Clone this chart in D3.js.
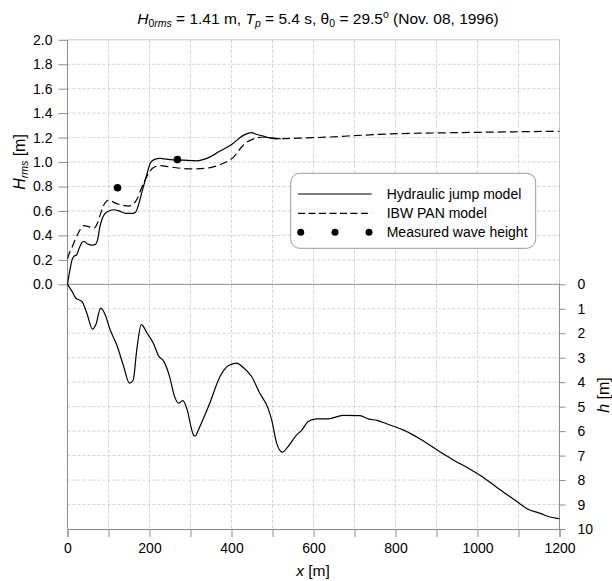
<!DOCTYPE html>
<html><head><meta charset="utf-8">
<script src="https://cdn.jsdelivr.net/npm/d3@7"></script>
<style>body{margin:0;background:#fff}svg{display:block}text{font-family:"Liberation Sans",Arial,sans-serif;fill:#000}</style>
</head><body>
<svg id="chart" width="612" height="581"></svg>
<script>
// ---- data ----
const xTicks = [0,200,400,600,800,1000,1200];
const hTicks = [0,0.2,0.4,0.6,0.8,1.0,1.2,1.4,1.6,1.8,2.0];
const depthTicks = [0,1,2,3,4,5,6,7,8,9,10];

const bathyX = [0,11,20,35,47,61,69,81,92,104,120,137,151,160,169,180,194,210,222,235,249,261,271,281,292,302,308,312,318,323,347,372,392,412,428,449,469,489,498,510,524,538,559,571,587,607,636,672,713,735,755,780,820,861,910,943,976,1008,1049,1090,1122,1155,1171,1200];
const bathyH = [0,0.29,0.56,0.70,1.17,1.83,1.65,0.97,1.24,1.86,2.47,3.36,4.04,3.93,2.67,1.65,1.99,2.43,2.92,3.15,3.77,4.58,4.86,4.75,5.13,5.88,6.18,6.2,6.0,5.81,4.86,3.77,3.33,3.22,3.39,3.77,4.45,5.06,5.54,6.49,6.86,6.63,6.15,5.97,5.61,5.50,5.50,5.36,5.37,5.51,5.56,5.71,5.96,6.33,6.86,7.2,7.5,7.82,8.32,8.80,9.18,9.37,9.48,9.58];

const jumpX = [0,6,12,16,22,28,35,40,49,61,69,73,79,85,92,101,113,126,142,158,166,174,182,192,202,211,226,250,283,315,340,372,401,425,440,449,462,475,490,505,520];
const jumpH = [0,0.12,0.21,0.23,0.24,0.29,0.34,0.35,0.33,0.32,0.33,0.36,0.47,0.54,0.58,0.60,0.61,0.60,0.58,0.58,0.59,0.66,0.76,0.88,0.99,1.02,1.03,1.02,1.015,1.01,1.03,1.09,1.145,1.21,1.235,1.24,1.225,1.215,1.20,1.195,1.19];

const panX = [0,5,12,20,28,40,53,65,73,81,89,101,113,130,150,162,170,182,190,198,210,226,250,283,315,348,380,405,429,454,480,510,559,641,722,812,900,1000,1100,1200];
const panH = [0.21,0.26,0.31,0.375,0.43,0.48,0.47,0.46,0.50,0.58,0.65,0.69,0.67,0.65,0.64,0.66,0.70,0.80,0.86,0.91,0.955,0.97,0.96,0.947,0.944,0.955,0.99,1.04,1.14,1.19,1.205,1.19,1.195,1.205,1.22,1.233,1.238,1.243,1.248,1.252];

const measX = [122, 268];
const measH = [0.79, 1.02];

const legendLabels = ["Hydraulic jump model","IBW PAN model","Measured wave height"];

// ---- layout ----
const svg = d3.select("#chart");
const L = 67.5, R = 559.5, T = 39.8, Z = 284.3, B = 529;
const x = d3.scaleLinear().domain([0,1200]).range([L,R]);
const yH = d3.scaleLinear().domain([0,2]).range([Z,T]);
const yD = d3.scaleLinear().domain([0,10]).range([Z,B]);

const grid = svg.append("g").attr("stroke","#c8c8c8").attr("stroke-width",0.8).attr("stroke-dasharray","3,2");
d3.range(100,1200,100).forEach(v=>{
  grid.append("line").attr("x1",x(v)).attr("x2",x(v)).attr("y1",T).attr("y2",B);
});
d3.range(1,10).forEach(i=>{
  const v=i*0.2;
  grid.append("line").attr("x1",L).attr("x2",R).attr("y1",yH(v)).attr("y2",yH(v));
});
d3.range(1,10).forEach(v=>{
  grid.append("line").attr("x1",L).attr("x2",R).attr("y1",yD(v)).attr("y2",yD(v));
});
// frame top/right
svg.append("line").attr("x1",L).attr("x2",R).attr("y1",T).attr("y2",T).attr("stroke","#c8c8c8");
svg.append("line").attr("x1",R).attr("x2",R).attr("y1",T).attr("y2",Z).attr("stroke","#c8c8c8");

// axes
const fs = 14;
const axL = svg.append("g").attr("transform",`translate(${L},0)`)
  .call(d3.axisLeft(yH).tickValues(hTicks).tickFormat(d3.format(".1f")).tickSize(9).tickPadding(6));
axL.select(".domain").attr("d",`M0,${T}V${B}`);
const axR = svg.append("g").attr("transform",`translate(${R},0)`)
  .call(d3.axisRight(yD).tickValues(depthTicks).tickFormat(d3.format("d")).tickSize(6).tickPadding(12));
axR.select(".domain").attr("d",`M0,${Z}V${B}`);
const axB = svg.append("g").attr("transform",`translate(0,${B})`)
  .call(d3.axisBottom(x).tickValues(d3.range(0,1201,100)).tickFormat(d=> d%200===0? d : "").tickSize(8).tickPadding(6));
[axL,axR,axB].forEach(a=>{
  a.selectAll("path,line").attr("stroke","#8c8c8c");
  a.selectAll("text").attr("font-size",fs).attr("font-family","Liberation Sans, Arial, sans-serif").attr("fill","#000");
});
// zero line
svg.append("line").attr("x1",L).attr("x2",R).attr("y1",Z).attr("y2",Z).attr("stroke","#8c8c8c");

// curves
const lineH = d3.line().x(d=>x(d[0])).y(d=>yH(d[1])).curve(d3.curveMonotoneX);
const lineD = d3.line().x(d=>x(d[0])).y(d=>yD(d[1])).curve(d3.curveMonotoneX);
svg.append("path").attr("d",lineD(d3.zip(bathyX,bathyH))).attr("fill","none").attr("stroke","#000").attr("stroke-width",1.2);
svg.append("path").attr("d",lineH(d3.zip(panX,panH))).attr("fill","none").attr("stroke","#000").attr("stroke-width",1.2).attr("stroke-dasharray","8,4");
svg.append("path").attr("d",lineH(d3.zip(jumpX,jumpH))).attr("fill","none").attr("stroke","#000").attr("stroke-width",1.2);
svg.selectAll("circle.m").data(d3.zip(measX,measH)).enter().append("circle")
  .attr("cx",d=>x(d[0])).attr("cy",d=>yH(d[1])).attr("r",3.8).attr("fill","#000");

// legend
const lg = svg.append("g");
lg.append("rect").attr("x",290.7).attr("y",173.3).attr("width",245).attr("height",75).attr("rx",9)
  .attr("fill","#fff").attr("stroke","#999").attr("stroke-width",1);
const ly = [194,213.3,232.3];
lg.append("line").attr("x1",298).attr("x2",371.7).attr("y1",ly[0]).attr("y2",ly[0]).attr("stroke","#000").attr("stroke-width",1.2);
lg.append("line").attr("x1",298).attr("x2",371.7).attr("y1",ly[1]).attr("y2",ly[1]).attr("stroke","#000").attr("stroke-width",1.2).attr("stroke-dasharray","7,3.5");
[300.7,335,369].forEach(cx=>lg.append("circle").attr("cx",cx).attr("cy",ly[2]).attr("r",3.5).attr("fill","#000"));
legendLabels.forEach((t,i)=>lg.append("text").attr("x",386.7).attr("y",ly[i]).attr("dy","0.35em").attr("font-size",14).text(t));

// title
const title = svg.append("text").attr("x",318).attr("y",24).attr("text-anchor","middle").attr("font-size",15.5);
title.append("tspan").attr("font-style","italic").text("H");
title.append("tspan").attr("font-size",10.5).attr("dy",3).text("0");
title.append("tspan").attr("font-size",10.5).attr("font-style","italic").text("rms");
title.append("tspan").attr("dy",-3).text(" = 1.41 m, ");
title.append("tspan").attr("font-style","italic").text("T");
title.append("tspan").attr("font-size",10.5).attr("font-style","italic").attr("dy",3).text("p");
title.append("tspan").attr("dy",-3).text(" = 5.4 s, θ");
title.append("tspan").attr("font-size",10.5).attr("dy",3).text("0");
title.append("tspan").attr("dy",-3).text(" = 29.5");
title.append("tspan").attr("font-size",10.5).attr("dy",-6).text("o");
title.append("tspan").attr("dy",6).text(" (Nov. 08, 1996)");

// axis titles
const xt = svg.append("text").attr("x",313).attr("y",576).attr("text-anchor","middle").attr("font-size",15.5);
xt.append("tspan").attr("font-style","italic").text("x");
xt.append("tspan").text(" [m]");
const yt = svg.append("text").attr("transform","translate(25,162) rotate(-90)").attr("text-anchor","middle").attr("font-size",16);
yt.append("tspan").attr("font-style","italic").text("H");
yt.append("tspan").attr("font-style","italic").attr("font-size",10.5).attr("dy",3).text("rms");
yt.append("tspan").attr("dy",-3).text(" [m]");
const rt = svg.append("text").attr("transform","translate(609,395) rotate(-90)").attr("text-anchor","middle").attr("font-size",16);
rt.append("tspan").attr("font-style","italic").text("h");
rt.append("tspan").text(" [m]");
</script>
</body></html>
